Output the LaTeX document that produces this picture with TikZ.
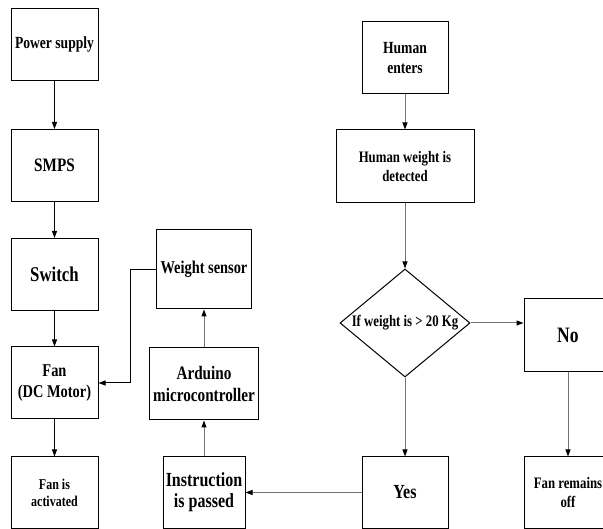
\documentclass[tikz,border=0pt]{standalone}
\usepackage{fontspec}
\setmainfont{Liberation Serif}[FakeStretch=0.8]
\usetikzlibrary{shapes.geometric, arrows.meta}

\tikzset{
  blk/.style={draw, line width=1pt, align=center, inner sep=1pt,
    minimum width=87pt, minimum height=72pt},
  cond/.style={diamond, draw, line width=1pt, inner sep=0pt, aspect=1.2,
    minimum width=130pt, minimum height=108pt},
  flow/.style={-{Triangle[length=7pt,width=5pt,color=black]}, line width=1pt},
  gflow/.style={flow, draw=black!55},
}
\newcommand{\fs}[2]{\bfseries\fontsize{#1}{#2}\selectfont}

\begin{document}
\begin{tikzpicture}[x=1pt, y=-1pt]

    % Frame
    \useasboundingbox (0,0) rectangle (603,529);
    \clip (0,0) rectangle (603,529);

    % Power chain
    \node[blk, font=\fs{17}{20}] (power) at (54.5,44.5) {Power supply};
    \node[blk, font=\fs{19}{22}] (smps) at (54.5,165.5) {SMPS};
    \node[blk, font=\fs{21}{24}] (switch) at (54.5,274.5) {Switch};
    \node[blk, font=\fs{18}{21}] (fan) at (54.5,383) {Fan\\(DC Motor)};
    \node[blk, font=\fs{15}{17}, minimum height=71pt] (fanon) at (54.5,492.5) {Fan is\\activated};

    % Controller chain
    \node[blk, font=\fs{18}{21}, minimum width=95pt, minimum height=79pt] (wsensor) at (204,269.5) {Weight sensor};
    \node[blk, font=\fs{19}{22}, minimum width=109pt] (arduino) at (204,384) {Arduino\\microcontroller};
    \node[blk, font=\fs{20}{21}, minimum width=82pt, minimum height=71pt] (instr) at (204,492.5) {Instruction\\is passed};

    % Decision chain
    \node[blk, font=\fs{17}{20}, minimum width=86pt] (human) at (405,58) {Human\\enters};
    \node[blk, font=\fs{16}{19}, minimum width=138pt, minimum height=73pt] (detect) at (405,166.5) {Human weight is\\detected};
    \node[cond, font=\fs{16}{19}] (check) at (405,323) {If weight is > 20 Kg};
    \node[blk, font=\fs{20}{22}, minimum width=86pt, minimum height=71pt] (yes) at (405,492.5) {Yes};
    \node[blk, font=\fs{22}{24}, minimum width=88pt, minimum height=73pt] (no) at (568,335.5) {No};
    \node[blk, font=\fs{16}{19}, minimum width=88pt, minimum height=71pt] (off) at (568,492.5) {Fan remains\\off};

    % Arrows, left column
    \draw[flow] (power) -- (smps);
    \draw[flow] (smps) -- (switch);
    \draw[flow] (switch) -- (fan);
    \draw[flow] (fan) -- (fanon);
    \draw[flow] (wsensor.west) -- ++(-26,0) |- (fan.east);

    % Arrows, middle column
    \draw[gflow] (instr) -- (arduino);
    \draw[gflow] (arduino) -- (wsensor);

    % Arrows, right side
    \draw[gflow] (human) -- (detect);
    \draw[gflow] (detect) -- (check);
    \draw[gflow] (check) -- (yes);
    \draw[gflow] (check.east) -- (check.east -| no.west);
    \draw[gflow] (no) -- (off);
    \draw[gflow] (yes) -- (instr);

\end{tikzpicture}
\end{document}
